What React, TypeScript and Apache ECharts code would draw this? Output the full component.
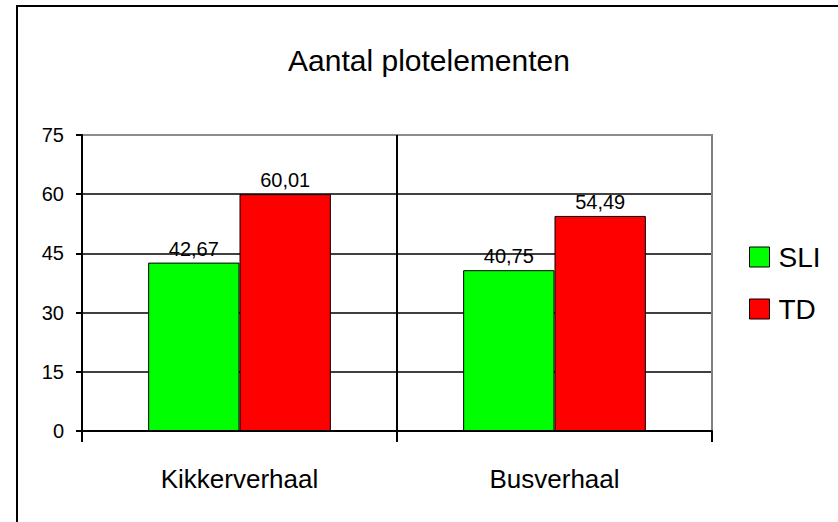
import React, { useEffect, useRef } from "react";
import * as echarts from "echarts";

const categories = ["Kikkerverhaal", "Busverhaal"];
const seriesNames = ["SLI", "TD"];
const sliValues = [42.67, 40.75];
const tdValues = [60.01, 54.49];
const yTicks = [0, 15, 30, 45, 60, 75];
const titleText = "Aantal plotelementen";

const FONT = "Liberation Sans, Arial, sans-serif";

export default function App() {
  const ref = useRef<HTMLDivElement>(null);
  useEffect(() => {
    if (!ref.current) return;
    const chart = echarts.init(ref.current, null, { renderer: "svg" });
    const fmt = (p: any) => Number(p.value).toFixed(2).replace(".", ",");
    chart.setOption({
      animation: false,
      backgroundColor: "#ffffff",
      textStyle: { fontFamily: FONT, color: "#000" },
      title: {
        text: titleText,
        left: 424,
        top: 40,
        textAlign: "center",
        textStyle: { fontFamily: FONT, fontSize: 30, fontWeight: "normal", color: "#000" },
      },
      graphic: [
        {
          type: "rect",
          shape: { x: 17, y: 6, width: 1000, height: 1000 },
          style: { fill: "none", stroke: "#000", lineWidth: 2 },
          silent: true,
        },
      ],
      legend: {
        orient: "vertical",
        left: 744,
        top: 238,
        itemWidth: 20,
        itemHeight: 20,
        itemGap: 24,
        icon: "rect",
        data: seriesNames,
        textStyle: { fontFamily: FONT, fontSize: 28, color: "#000", padding: [0, 0, 0, 4] },
        itemStyle: { borderColor: "#000", borderWidth: 1 },
      },
      grid: {
        left: 82,
        right: 126,
        top: 135,
        bottom: 91,
        show: true,
        borderColor: "#808080",
        borderWidth: 2,
      },
      xAxis: {
        type: "category",
        data: categories,
        boundaryGap: true,
        axisLine: { lineStyle: { color: "#000", width: 2 } },
        axisTick: { show: true, length: 11, inside: false, lineStyle: { color: "#000", width: 2 } },
        axisLabel: { fontFamily: FONT, fontSize: 26, color: "#000", margin: 35 },
        splitLine: {
          show: true,
          lineStyle: { color: ["#000", "#000", "#808080"], width: 2 },
        },
      },
      yAxis: {
        type: "value",
        min: yTicks[0],
        max: yTicks[yTicks.length - 1],
        interval: 15,
        axisLine: { show: true, lineStyle: { color: "#000", width: 2 } },
        axisTick: { show: true, length: 6, inside: false, lineStyle: { color: "#000", width: 2 } },
        axisLabel: { fontFamily: FONT, fontSize: 20, color: "#000", margin: 18 },
        splitLine: {
          show: true,
          lineStyle: { color: ["#000", "#000", "#000", "#000", "#000", "#909090"], width: 1.5 },
        },
      },
      series: [
        {
          name: seriesNames[0],
          type: "bar",
          data: sliValues,
          barGap: "0%",
          barCategoryGap: "42%",
          itemStyle: { color: "#00ff00", borderColor: "#000", borderWidth: 1 },
          label: { show: true, position: "top", distance: 4, formatter: fmt, fontFamily: FONT, fontSize: 20, color: "#000" },
        },
        {
          name: seriesNames[1],
          type: "bar",
          data: tdValues,
          barGap: "0%",
          barCategoryGap: "42%",
          itemStyle: { color: "#ff0000", borderColor: "#000", borderWidth: 1 },
          label: { show: true, position: "top", distance: 4, formatter: fmt, fontFamily: FONT, fontSize: 20, color: "#000" },
        },
      ],
    });
    return () => chart.dispose();
  }, []);
  return (
    <div
      ref={ref}
      style={{ position: "absolute", left: 0, top: 0, width: 838, height: 522 }}
    />
  );
}
